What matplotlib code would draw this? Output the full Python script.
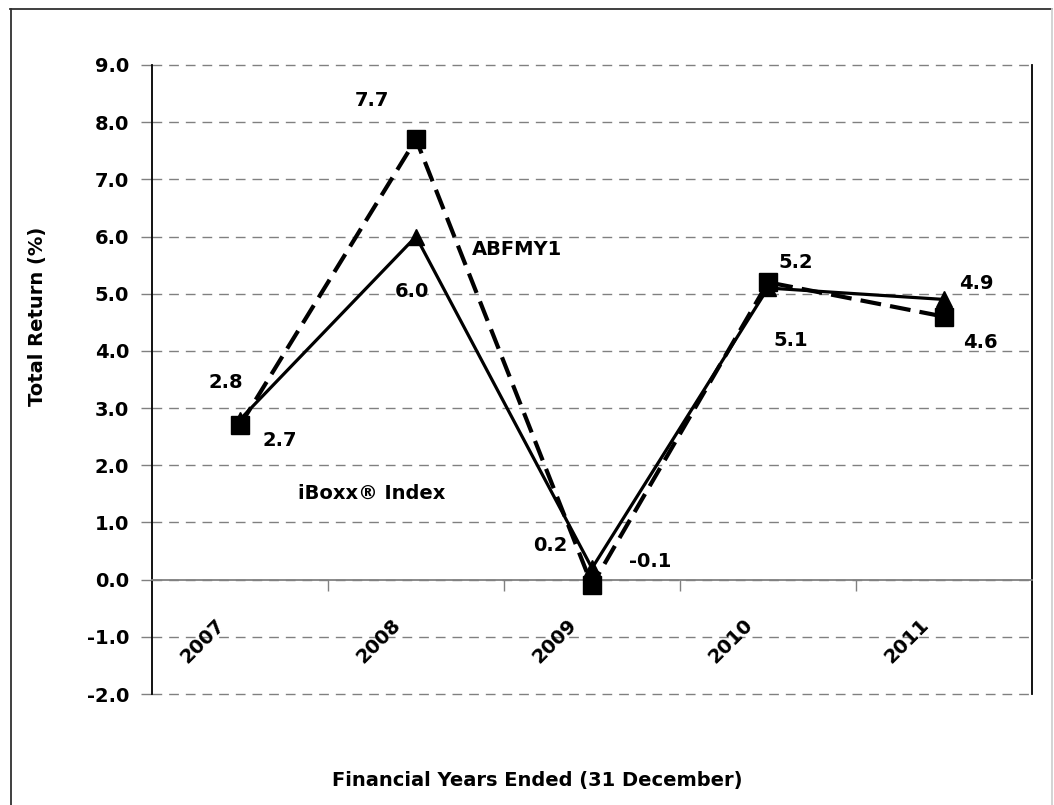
import matplotlib
matplotlib.use("Agg")
import matplotlib.pyplot as plt
from matplotlib.lines import Line2D

# ---- data ----
years = ["2007", "2008", "2009", "2010", "2011"]
abfmy1 = [2.8, 6.0, 0.2, 5.1, 4.9]        # solid, triangles
iboxx = [2.7, 7.7, -0.1, 5.2, 4.6]        # dashed, squares
y_ticks = [9.0, 8.0, 7.0, 6.0, 5.0, 4.0, 3.0, 2.0, 1.0, 0.0, -1.0, -2.0]

# label offsets in pixels (dx, dy)
abf_offsets = [(-14, 37), (-4, -55), (-42, 23), (23, -52), (32, 16)]
ibx_offsets = [(40, -15), (-44, 39), (58, 24), (28, 20), (36, -26)]

plt.rcParams['font.family'] = ['DejaVu Sans']
plt.rcParams['font.weight'] = 'bold'
FS = 14

fig = plt.figure(figsize=(10.54, 8.05), dpi=100)
W, H = 1054, 805
ax = fig.add_axes([152 / W, 1 - 694 / H, 880 / W, 629 / H])

x = list(range(len(years)))
ax.plot(x, iboxx, color='black', lw=3.0, dashes=(5, 2.2), marker='s',
        markersize=13, zorder=4)
ax.plot(x, abfmy1, color='black', lw=2.3, marker='^', markersize=12,
        zorder=5)

for i, v in enumerate(abfmy1):
    ax.annotate(f"{v:.1f}", xy=(i, v), xytext=abf_offsets[i],
                textcoords='offset pixels', ha='center', va='center',
                fontsize=FS, fontweight='bold')
for i, v in enumerate(iboxx):
    ax.annotate(f"{v:.1f}", xy=(i, v), xytext=ibx_offsets[i],
                textcoords='offset pixels', ha='center', va='center',
                fontsize=FS, fontweight='bold')

ax.text(1.574, 5.78, "ABFMY1", ha='center', va='center', fontsize=FS,
        fontweight='bold')
ax.text(0.75, 1.51, "iBoxx\u00ae Index", ha='center', va='center',
        fontsize=FS, fontweight='bold')

ax.set_xlim(-0.5, len(years) - 0.5)
ax.set_ylim(-2.0, 9.0)
ax.set_yticks(y_ticks)
ax.set_yticklabels([f"{t:.1f}" for t in y_ticks], fontsize=FS,
                   fontweight='bold')
ax.tick_params(axis='y', direction='out', length=8, width=1, color='#808080',
               pad=8.5)

# x axis crosses at zero with boundary ticks
ax.spines['bottom'].set_position(('data', 0))
ax.spines['bottom'].set_color('#808080')
ax.spines['bottom'].set_linewidth(1.3)
ax.set_xticks([i - 0.5 for i in range(1, len(years))])
ax.set_xticklabels([])
ax.tick_params(axis='x', direction='out', length=8, width=1, color='#808080')
ax.spines['top'].set_visible(False)
ax.spines['left'].set_color('black')
ax.spines['right'].set_color('black')
ax.spines['left'].set_linewidth(1.3)
ax.spines['right'].set_linewidth(1.3)

ax.grid(axis='y', color='#808080', lw=1, linestyle=(0, (7, 5)))
ax.set_axisbelow(True)
for gl in ax.get_ygridlines():
    gl.set_clip_on(False)

for i, yr in enumerate(years):
    ax.annotate(yr, xy=(i, 0), xytext=(-37, -61), textcoords='offset pixels',
                rotation=45, ha='center', va='center', fontsize=FS,
                fontweight='bold')

fig.text(38 / W, 1 - 316 / H, "Total Return (%)", rotation=90, ha='center',
         va='center', fontsize=FS, fontweight='bold')
fig.text(537 / W, 1 - 780 / H, "Financial Years Ended (31 December)",
         ha='center', va='center', fontsize=FS, fontweight='bold')

# outer chart frame
fig.add_artist(Line2D([10.5 / W, 10.5 / W], [0, 1 - 9 / H], color='#303030',
                      lw=1.3, transform=fig.transFigure))
fig.add_artist(Line2D([10 / W, 1052 / W], [1 - 9.5 / H, 1 - 9.5 / H],
                      color='#303030', lw=1.3, transform=fig.transFigure))
fig.add_artist(Line2D([1052 / W, 1052 / W], [0, 1 - 9 / H], color='#d0d0d0',
                      lw=1.3, transform=fig.transFigure))

fig.savefig("out.png", dpi=100)
